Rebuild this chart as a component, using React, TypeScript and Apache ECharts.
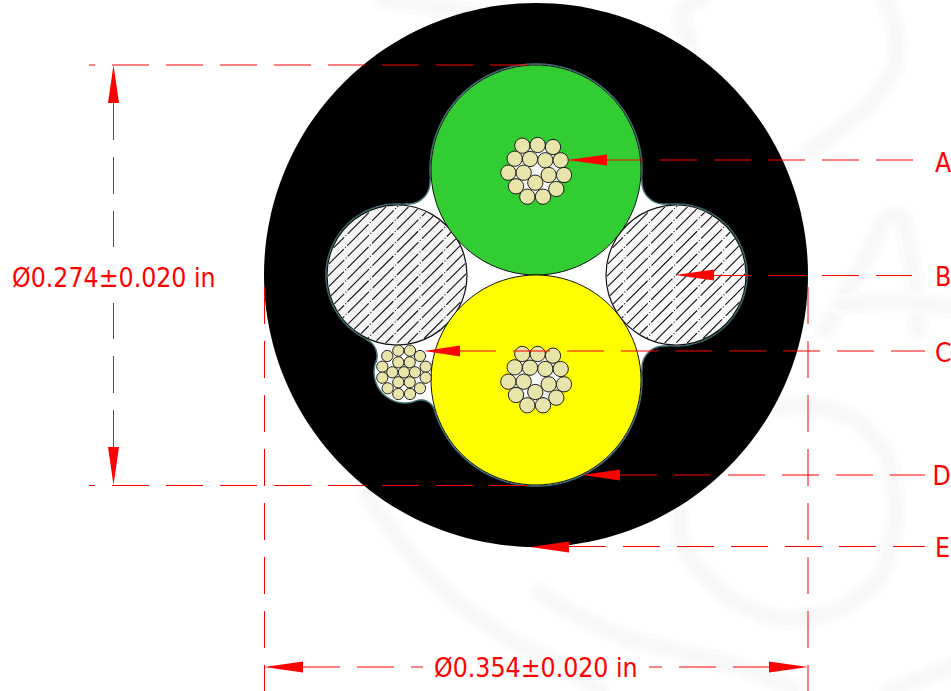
import React, { useEffect, useRef } from "react";
import * as echarts from "echarts";

const W = 951;
const H = 691;
const FONT = "'DejaVu Sans Condensed', 'DejaVu Sans', sans-serif";

// [cx, cy, r]
const jacket = [[536, 275, 272]];
const lobes = [
  [536, 170, 106],
  [676, 275, 71],
  [536, 380, 106],
  [405, 372, 31],
  [397, 275, 71],
];
const fillets = [
  [664, 182, 22],
  [664, 368, 22],
  [421, 414, 14],
  [359, 356, 18],
  [408, 182, 22],
];
const hatchCircles = [
  [397, 275, 70],
  [676, 275, 70],
];
const hatchFills = ["#f4f4f4", "#f9f9f9"];
const cores = [
  [536, 170, 105],
  [536, 380, 105],
];
const coreColors = ["#32cd32", "#ffff00"];
const coreCentres = [
  [536.5, 171, 24],
  [536.5, 380, 24],
];
const greenStrands = [
  [522.3, 145.7], [537.7, 145], [553, 147], [514.7, 158.7], [530, 159], [545.3, 160.3],
  [560.7, 160.3], [508.3, 172.7], [523.7, 172.7], [548.7, 175], [564, 175], [516, 186.3],
  [535.3, 182.7], [556.3, 189], [527.3, 196.7], [543, 196.7],
];
const yellowStrands = [
  [522.3, 354], [537.7, 354], [553, 355.7], [514.7, 367.3], [530, 367.7], [545.3, 369],
  [560.7, 369], [508.3, 381.7], [523.7, 381.7], [548.7, 384.3], [564, 384.3], [516, 395],
  [535.3, 392], [556.3, 397.7], [527.3, 405.3], [543, 405.3],
];
const smallStrands = [
  [398.3, 350.7], [410, 350.7], [387.3, 356], [420, 356], [398.3, 362.3], [409.7, 362.3],
  [382.3, 366.7], [425.7, 366.7], [392.3, 372.3], [404, 372.3], [415, 372.3], [382.3, 377.7],
  [425.7, 377.7], [398.3, 382.3], [409.7, 382.3], [387.7, 388.3], [420, 388.3], [398.3, 394],
  [410, 394],
];

// [x1, y1, x2, y2, dashOffset]
const dimLines = [
  [606, 160, 913, 160, 0],
  [714, 275.5, 912, 275.5, 0],
  [459, 351, 925, 351, 0],
  [620, 475, 925, 475, 0],
  [569, 546.5, 925, 546.5, 0],
  [89, 65, 527, 65, 31],
  [89, 485.5, 527, 485.5, 31],
  [113.5, 103, 113.5, 247, 0],
  [113.5, 447, 113.5, 303, 0],
  [264.5, 287, 264.5, 691, 0],
  [808, 287, 808, 691, 0],
  [303, 667, 423, 667, 0],
  [770, 667, 649, 667, 0],
];
// [tipX, tipY, baseX, baseY, halfWidth]
const arrows = [
  [567, 160, 607, 160, 5.5],
  [675, 275, 714, 275, 5.5],
  [424, 351, 460, 351, 5.5],
  [582, 475, 620, 475, 5.5],
  [530, 547, 569, 547, 5.5],
  [113.5, 65, 113.5, 103, 5.5],
  [113.5, 485, 113.5, 447, 5.5],
  [264, 667, 303, 667, 5.5],
  [808, 667, 769, 667, 5.5],
];
const labelTexts = ["A", "B", "C", "D", "E", "Ø0.274±0.020 in", "Ø0.354±0.020 in"];
const labelPositions = [
  [935, 162], [935, 276.7], [935, 352], [932.5, 475], [935, 547.5], [12, 277], [434, 667.5],
];
const watermarkStrokes = [
  [[385, 0], [430, 6], [480, 14]],
  [[700, 0], [682, 15], [690, 40]],
  [[885, 0], [897, 50], [880, 90], [845, 125], [810, 150]],
  [[825, 330], [862, 265], [895, 215], [912, 265], [918, 330]],
  [[840, 305], [900, 302], [951, 308]],
  [[780, 407], [830, 410], [873, 437], [893, 483], [890, 547], [867, 590], [807, 617], [753, 610], [707, 577], [683, 543], [680, 515]],
  [[367, 493], [427, 573], [500, 633], [560, 665], [600, 691]],
  [[540, 593], [607, 630], [673, 650], [740, 667], [793, 688]],
  [[890, 691], [951, 667]],
];

const circleRender = (colorOf: (i: number) => string, stroke: string, lw: number) =>
  (params: any, api: any) => {
    const c = api.coord([api.value(0), api.value(1)]);
    return {
      type: "circle",
      shape: { cx: c[0], cy: c[1], r: api.size([api.value(2), 0])[0] },
      style: { fill: colorOf(params.dataIndex), stroke, lineWidth: lw },
    };
  };

function blobPoints() {
  const pts: number[][] = [];
  const n = lobes.length;
  const ang = (a: number[], b: number[]) => Math.atan2(b[1] - a[1], b[0] - a[0]);
  const arc = (c: number[], s: number, e: number, dir: number) => {
    let end = e;
    while (dir > 0 ? end < s : end > s) end += dir * 2 * Math.PI;
    const steps = Math.ceil(Math.abs(end - s) * c[2] / 2) + 2;
    for (let k = 0; k <= steps; k++) {
      const t = s + ((end - s) * k) / steps;
      pts.push([c[0] + c[2] * Math.cos(t), c[1] + c[2] * Math.sin(t)]);
    }
  };
  for (let i = 0; i < n; i++) {
    const lobe = lobes[i];
    const next = lobes[(i + 1) % n];
    const fPrev = fillets[(i - 1 + n) % n];
    const f = fillets[i];
    arc(lobe, ang(lobe, fPrev), ang(lobe, f), 1);
    arc(f, ang(f, lobe), ang(f, next), -1);
  }
  return pts;
}

function App() {
  const ref = useRef<HTMLDivElement>(null);
  useEffect(() => {
    const chart = echarts.init(ref.current!, undefined, { renderer: "svg" });
    const base = { type: "custom", coordinateSystem: "cartesian2d", silent: true, clip: false };
    chart.setOption({
      animation: false,
      backgroundColor: "#ffffff",
      grid: { left: 0, right: 0, top: 0, bottom: 0 },
      xAxis: { type: "value", min: 0, max: W, show: false },
      yAxis: { type: "value", min: 0, max: H, inverse: true, show: false },
      series: [
        {
          ...base,
          data: watermarkStrokes.map((_, i) => [i, i]),
          renderItem: (params: any, api: any) => {
            const points = watermarkStrokes[params.dataIndex].map((p) => api.coord(p));
            return {
              type: "group",
              children: [
                {
                  type: "polyline",
                  shape: { points, smooth: 0.5 },
                  style: { fill: "none", stroke: "#fbfbfb", lineWidth: 22, lineCap: "round" },
                },
                {
                  type: "polyline",
                  shape: { points, smooth: 0.5 },
                  style: { fill: "none", stroke: "#f7f7f7", lineWidth: 11, lineCap: "round" },
                },
              ],
            };
          },
        },
        { ...base, data: jacket, renderItem: circleRender(() => "#000000", "none", 0) },
        {
          ...base,
          data: [[0, 0]],
          renderItem: (_: any, api: any) => ({
            type: "polygon",
            shape: { points: blobPoints().map((p) => api.coord(p)) },
            style: { fill: "#ffffff", stroke: "#3d6e73", lineWidth: 1.5 },
          }),
        },
        {
          ...base,
          data: hatchCircles,
          renderItem: (params: any, api: any) => {
            const cx = api.value(0);
            const cy = api.value(1);
            const r = api.value(2);
            const c = api.coord([cx, cy]);
            const children: any[] = [
              {
                type: "circle",
                shape: { cx: c[0], cy: c[1], r },
                style: { fill: hatchFills[params.dataIndex], stroke: "#111111", lineWidth: 1.2 },
              },
            ];
            const spacing = 8;
            const dash = [30, 2, 1, 2];
            const period = 35;
            for (let d = -Math.floor(r / spacing) * spacing; d < r; d += spacing) {
              const half = Math.sqrt(Math.max(0, (r - 1) * (r - 1) - d * d));
              const mx = cx + d * Math.SQRT1_2;
              const my = cy + d * Math.SQRT1_2;
              const a = api.coord([mx - half * Math.SQRT1_2, my + half * Math.SQRT1_2]);
              const b = api.coord([mx + half * Math.SQRT1_2, my - half * Math.SQRT1_2]);
              const phase = (((d - half) % period) + period) % period;
              children.push({
                type: "line",
                shape: { x1: a[0], y1: a[1], x2: b[0], y2: b[1] },
                style: { stroke: "#111111", lineWidth: 1.1, lineDash: dash, lineDashOffset: phase, fill: "none" },
              });
            }
            return { type: "group", children };
          },
        },
        { ...base, data: cores, renderItem: circleRender((i) => coreColors[i], "#111111", 1) },
        { ...base, data: coreCentres, renderItem: circleRender(() => "#f8f8f8", "none", 0) },
        {
          ...base,
          data: [...greenStrands, ...yellowStrands].map((p) => [p[0], p[1], 7.6]),
          renderItem: circleRender(() => "#e8e4aa", "#1a1a1a", 1),
        },
        {
          ...base,
          data: smallStrands.map((p) => [p[0], p[1], 5.6]),
          renderItem: circleRender(() => "#e8e4aa", "#1a1a1a", 1),
        },
        {
          ...base,
          data: dimLines,
          renderItem: (_: any, api: any) => {
            const a = api.coord([api.value(0), api.value(1)]);
            const b = api.coord([api.value(2), api.value(3)]);
            return {
              type: "line",
              shape: { x1: a[0], y1: a[1], x2: b[0], y2: b[1] },
              style: {
                stroke: "#ff0000",
                lineWidth: 1,
                lineDash: [37, 17],
                lineDashOffset: api.value(4),
                fill: "none",
              },
            };
          },
        },
        {
          ...base,
          data: arrows,
          renderItem: (_: any, api: any) => {
            const tx = api.value(0);
            const ty = api.value(1);
            const bx = api.value(2);
            const by = api.value(3);
            const h = api.value(4);
            const vertical = tx === bx;
            const pts = [
              [tx, ty],
              vertical ? [bx - h, by] : [bx, by - h],
              vertical ? [bx + h, by] : [bx, by + h],
            ];
            return {
              type: "polygon",
              shape: { points: pts.map((p) => api.coord(p)) },
              style: { fill: "#ff0000", stroke: "none" },
            };
          },
        },
        {
          ...base,
          data: labelPositions,
          renderItem: (params: any, api: any) => {
            const c = api.coord([api.value(0), api.value(1)]);
            return {
              type: "text",
              x: c[0],
              y: c[1],
              style: {
                text: labelTexts[params.dataIndex],
                fill: "#ff0000",
                fontSize: 26.4,
                fontFamily: FONT,
                align: "left",
                verticalAlign: "middle",
              },
            };
          },
        },
      ],
    });
    return () => chart.dispose();
  }, []);
  return <div ref={ref} style={{ position: "absolute", left: 0, top: 0, width: W, height: H }} />;
}

export default App;
